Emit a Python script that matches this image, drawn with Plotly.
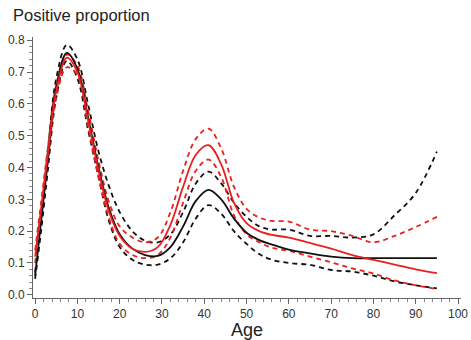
import plotly.graph_objects as go

ages = [0, 1.5, 3, 5, 7.5, 10, 12.5, 15, 17.5, 20, 23, 26, 29, 32, 35, 38, 41,
        44, 47, 50, 53, 56, 60, 65, 70, 75, 80, 85, 90, 95]

black_mid = [0.06, 0.24, 0.42, 0.65, 0.76, 0.71, 0.56, 0.40, 0.27, 0.19, 0.145, 0.125, 0.122,
             0.15, 0.215, 0.295, 0.33, 0.30, 0.24, 0.195, 0.172, 0.158, 0.142, 0.13, 0.12,
             0.115, 0.115, 0.115, 0.115, 0.115]
black_up = [0.07, 0.26, 0.45, 0.68, 0.785, 0.74, 0.60, 0.45, 0.34, 0.26, 0.20, 0.17, 0.165,
            0.19, 0.26, 0.35, 0.387, 0.35, 0.29, 0.245, 0.215, 0.205, 0.205, 0.185, 0.185,
            0.18, 0.19, 0.25, 0.32, 0.45]
black_low = [0.05, 0.21, 0.39, 0.62, 0.735, 0.68, 0.52, 0.37, 0.23, 0.15, 0.11, 0.095, 0.095,
             0.115, 0.165, 0.24, 0.282, 0.255, 0.20, 0.16, 0.128, 0.11, 0.10, 0.094, 0.078,
             0.073, 0.06, 0.042, 0.03, 0.02]
red_mid = [0.12, 0.28, 0.44, 0.64, 0.745, 0.70, 0.55, 0.39, 0.26, 0.185, 0.145, 0.135, 0.15,
           0.22, 0.34, 0.44, 0.47, 0.41, 0.29, 0.225, 0.20, 0.188, 0.18, 0.163, 0.145,
           0.125, 0.11, 0.095, 0.08, 0.068]
red_up = [0.14, 0.30, 0.46, 0.66, 0.755, 0.72, 0.58, 0.42, 0.29, 0.215, 0.18, 0.165, 0.18,
          0.26, 0.39, 0.49, 0.522, 0.46, 0.34, 0.27, 0.243, 0.232, 0.23, 0.205, 0.20,
          0.185, 0.165, 0.185, 0.213, 0.245]
red_low = [0.10, 0.26, 0.42, 0.62, 0.715, 0.69, 0.53, 0.37, 0.24, 0.16, 0.125, 0.115, 0.125,
           0.18, 0.29, 0.39, 0.425, 0.37, 0.25, 0.19, 0.165, 0.148, 0.138, 0.12, 0.102,
           0.083, 0.067, 0.045, 0.03, 0.018]

x_ticks = [0, 10, 20, 30, 40, 50, 60, 70, 80, 90, 100]
y_ticks = [0.0, 0.1, 0.2, 0.3, 0.4, 0.5, 0.6, 0.7, 0.8]
y_labels = ["0.0", "0.1", "0.2", "0.3", "0.4", "0.5", "0.6", "0.7", "0.8"]

RED = "#e8201f"
BLACK = "#111111"

fig = go.Figure()
series = [
    (black_up, BLACK, "dash"), (black_low, BLACK, "dash"),
    (red_up, RED, "dash"), (red_low, RED, "dash"),
    (black_mid, BLACK, "solid"), (red_mid, RED, "solid"),
]
for ys, col, dash in series:
    fig.add_trace(go.Scatter(
        x=ages, y=ys, mode="lines",
        line=dict(color=col, width=1.8, dash=("5px,4px" if dash == "dash" else "solid"),
                  shape="spline", smoothing=1.0),
        showlegend=False, hoverinfo="skip"))

font = "Liberation Sans, Arial, sans-serif"
fig.update_layout(
    width=471, height=340,
    margin=dict(l=33, r=10, t=37, b=42),
    paper_bgcolor="white", plot_bgcolor="white",
    font=dict(family=font, color="#333333", size=12),
    xaxis=dict(range=[-0.5, 100.7], tickvals=x_ticks, ticktext=[str(v) for v in x_ticks],
               automargin=False,
               showgrid=False, zeroline=False, showline=True, linecolor="#666666",
               linewidth=1, ticks="outside", ticklen=5, tickcolor="#666666",
               minor=dict(ticks="outside", ticklen=3, dtick=2, tickcolor="#888888"),
               tickfont=dict(size=12)),
    yaxis=dict(range=[-0.01, 0.81], tickvals=y_ticks, ticktext=y_labels,
               automargin=False,
               showgrid=False, zeroline=False, showline=True, linecolor="#666666",
               linewidth=1, ticks="outside", ticklen=5, tickcolor="#666666",
               minor=dict(ticks="outside", ticklen=3, dtick=0.02, tickcolor="#888888"),
               tickfont=dict(size=12)),
    annotations=[
        dict(text="Positive proportion", xref="paper", yref="paper",
             x=0, y=1.0, xshift=-22, yshift=22, xanchor="left", yanchor="middle",
             showarrow=False, font=dict(size=16.5, color="#222222", family=font)),
        dict(text="Age", xref="paper", yref="paper",
             x=0.5, y=0, yshift=-32, xanchor="center", yanchor="middle",
             showarrow=False, font=dict(size=18, color="#222222", family=font)),
    ],
)

fig.write_html("out.html", config={"displayModeBar": False},
               post_script="document.body.style.margin='0px';")
